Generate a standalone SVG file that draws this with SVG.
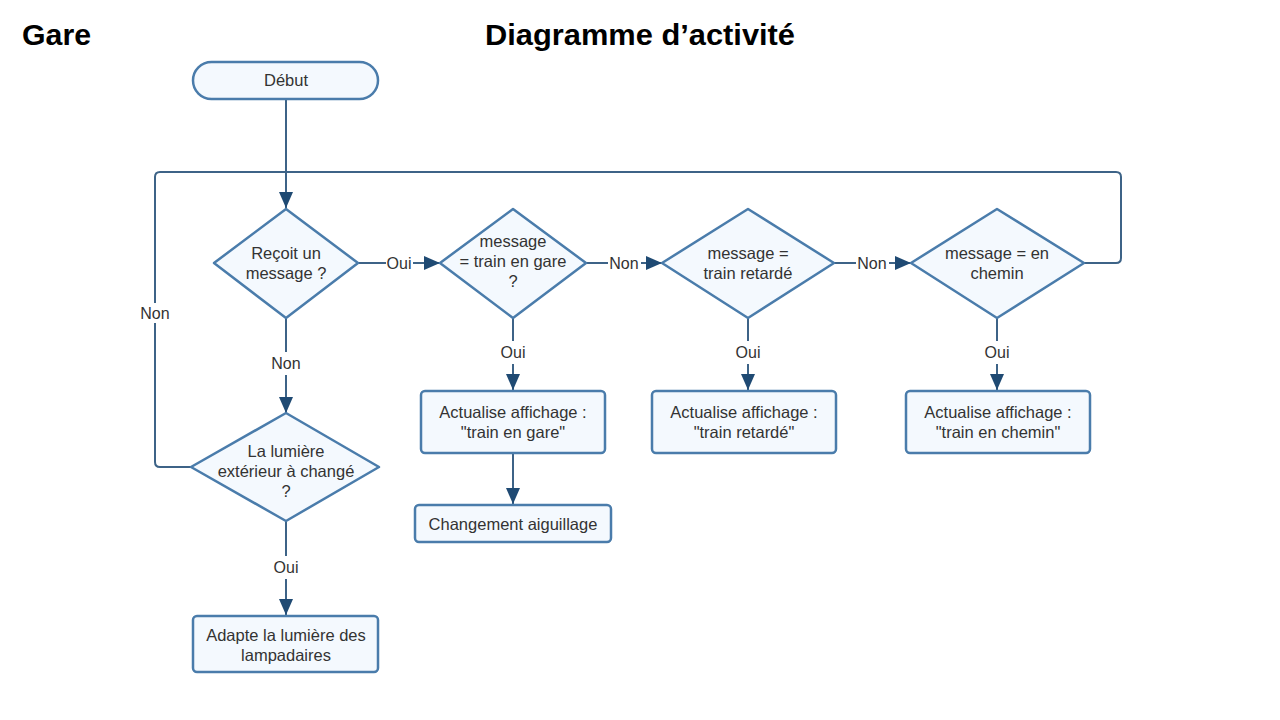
<svg xmlns="http://www.w3.org/2000/svg" width="1280" height="720" viewBox="0 0 1280 720">
<style>
.node{fill:#f4f9fe;stroke:#4a7cab;stroke-width:2.5}
.t{font-family:"Liberation Sans",Arial,sans-serif;font-size:16.5px;fill:#333;text-anchor:middle}
.lbl{font-family:"Liberation Sans",Arial,sans-serif;font-size:16px;fill:#333;text-anchor:middle}
.c{fill:none;stroke:#3d6387;stroke-width:2}
.h{font-family:"Liberation Sans",Arial,sans-serif;font-size:29px;font-weight:bold;fill:#000}
</style>
<defs>
<marker id="a" viewBox="0 0 16 14" refX="16" refY="7" markerWidth="16" markerHeight="14" markerUnits="userSpaceOnUse" orient="auto">
<path d="M0,0 L16,7 L0,14 z" fill="#1f4a73"/>
</marker>
</defs>
<rect width="1280" height="720" fill="#fff"/>
<text class="h" x="22" y="45" textLength="69" lengthAdjust="spacingAndGlyphs">Gare</text>
<text class="h" x="485" y="45" textLength="310" lengthAdjust="spacingAndGlyphs">Diagramme d’activité</text>

<g id="connectors">
<path class="c" d="M286,99 V208" marker-end="url(#a)"/>
<path class="c" d="M191,467 H160 Q155,467 155,462 V177 Q155,172 160,172 H1116 Q1121,172 1121,177 V258 Q1121,263 1116,263 H1084"/>
<path class="c" d="M358,263 H386 M413,263 H440" marker-end="url(#a)"/>
<path class="c" d="M586,263 H608 M641,263 H662" marker-end="url(#a)"/>
<path class="c" d="M834,263 H856 M889,263 H911" marker-end="url(#a)"/>
<path class="c" d="M286,318 V352 M286,375 V413" marker-end="url(#a)"/>
<path class="c" d="M286,521 V556 M286,579 V615" marker-end="url(#a)"/>
<path class="c" d="M513,318 V341 M513,364 V390" marker-end="url(#a)"/>
<path class="c" d="M748,318 V341 M748,364 V390" marker-end="url(#a)"/>
<path class="c" d="M997,318 V341 M997,364 V390" marker-end="url(#a)"/>
<path class="c" d="M513,453 V504" marker-end="url(#a)"/>
<text class="lbl" x="399" y="269">Oui</text>
<text class="lbl" x="624" y="269">Non</text>
<text class="lbl" x="872" y="269">Non</text>
<rect x="137" y="303" width="36" height="20" fill="#fff"/>
<text class="lbl" x="155" y="319">Non</text>
<text class="lbl" x="286" y="369">Non</text>
<text class="lbl" x="286" y="573">Oui</text>
<text class="lbl" x="513" y="358">Oui</text>
<text class="lbl" x="748" y="358">Oui</text>
<text class="lbl" x="997" y="358">Oui</text>
</g>

<g id="debut">
<rect class="node" x="193" y="62" width="185" height="37" rx="18.5"/>
<text class="t" x="286" y="86">Début</text>
</g>
<g id="recoit">
<path class="node" d="M286,209 L358,263 L286,318 L214,263 Z" stroke-linejoin="round"/>
<text class="t" x="286" y="259">Reçoit un</text>
<text class="t" x="286" y="279">message ?</text>
</g>
<g id="gare">
<path class="node" d="M513,209 L586,263 L513,318 L440,263 Z" stroke-linejoin="round"/>
<text class="t" x="513" y="247">message</text>
<text class="t" x="513" y="267">= train en gare</text>
<text class="t" x="513" y="287">?</text>
</g>
<g id="retarde">
<path class="node" d="M748,209 L834,263 L748,318 L662,263 Z" stroke-linejoin="round"/>
<text class="t" x="748" y="259">message =</text>
<text class="t" x="748" y="279">train retardé</text>
</g>
<g id="chemin">
<path class="node" d="M997,209 L1084,263 L997,318 L911,263 Z" stroke-linejoin="round"/>
<text class="t" x="997" y="259">message = en</text>
<text class="t" x="997" y="279">chemin</text>
</g>
<g id="lumiere">
<path class="node" d="M286,413 L379,467 L286,521 L191,467 Z" stroke-linejoin="round"/>
<text class="t" x="286" y="457">La lumière</text>
<text class="t" x="286" y="477">extérieur à changé</text>
<text class="t" x="286" y="497">?</text>
</g>
<g id="affGare">
<rect class="node" x="421" y="391" width="184" height="62" rx="4"/>
<text class="t" x="513" y="418">Actualise affichage :</text>
<text class="t" x="513" y="438">"train en gare"</text>
</g>
<g id="affRetarde">
<rect class="node" x="652" y="391" width="184" height="62" rx="4"/>
<text class="t" x="744" y="418">Actualise affichage :</text>
<text class="t" x="744" y="438">"train retardé"</text>
</g>
<g id="affChemin">
<rect class="node" x="906" y="391" width="184" height="62" rx="4"/>
<text class="t" x="998" y="418">Actualise affichage :</text>
<text class="t" x="998" y="438">"train en chemin"</text>
</g>
<g id="aiguillage">
<rect class="node" x="415" y="505" width="196" height="37" rx="4"/>
<text class="t" x="513" y="530">Changement aiguillage</text>
</g>
<g id="lampadaires">
<rect class="node" x="193" y="616" width="185" height="56" rx="4"/>
<text class="t" x="286" y="641">Adapte la lumière des</text>
<text class="t" x="286" y="661">lampadaires</text>
</g>
</svg>
